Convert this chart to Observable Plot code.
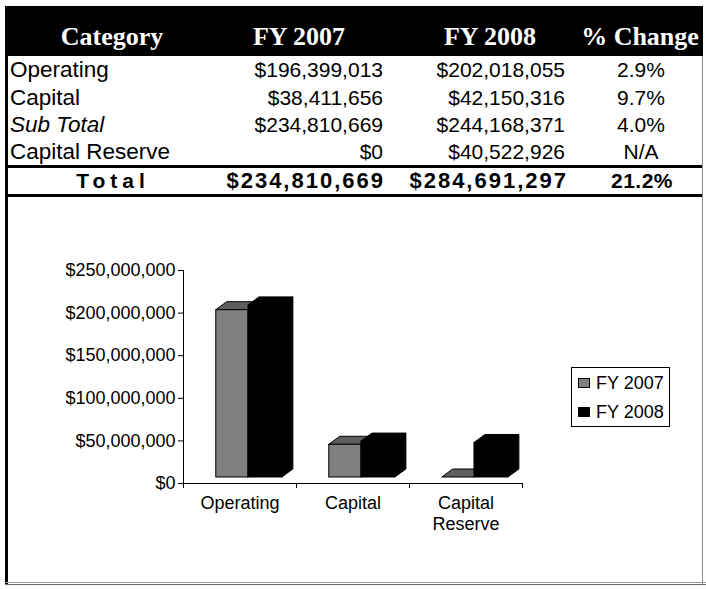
<!DOCTYPE html>
<html><head><meta charset="utf-8">
<script src="https://cdn.jsdelivr.net/npm/d3@7"></script>
<script src="https://cdn.jsdelivr.net/npm/@observablehq/plot@0.6"></script>
<style>
html,body{margin:0;padding:0;background:#fff}
body{width:706px;height:589px;position:relative;overflow:hidden;font-family:"Liberation Sans",Arial,sans-serif;color:#000}
.abs{position:absolute}
.cell{position:absolute;white-space:nowrap;line-height:30px;height:30px}
.hdr{font-family:"Liberation Serif","Times New Roman",serif;font-weight:bold;font-size:26px;color:#fff}
.body{font-size:21px}
.lab{font-size:22.5px}
.tot{font-size:22px;font-weight:bold;letter-spacing:2px}
#chart{position:absolute;left:8px;top:198px}
#legend{position:absolute;left:571px;top:367px;width:97px;height:58px;border:1px solid #000;font-size:18px}
.li{position:absolute;left:6px;height:22px;line-height:22px}
.sw{display:inline-block;width:10px;height:8px;border:1px solid #000;margin-right:6px;vertical-align:1px}
</style></head><body>
<div id="root"></div>
<div id="chart"></div>
<div id="legend"></div>
<script>
// ---- table data ----
const headers = ["Category", "FY 2007", "FY 2008", "% Change"];
const rowLabels = ["Operating", "Capital", "Sub Total", "Capital Reserve"];
const fy2007Text = ["$196,399,013", "$38,411,656", "$234,810,669", "$0"];
const fy2008Text = ["$202,018,055", "$42,150,316", "$244,168,371", "$40,522,926"];
const pctText = ["2.9%", "9.7%", "4.0%", "N/A"];
const totalRow = ["Total", "$234,810,669", "$284,691,297", "21.2%"];

// ---- chart data ----
const categories = ["Operating", "Capital", "Capital Reserve"];
const series = ["FY 2007", "FY 2008"];
const fy2007 = [196399013, 38411656, 0];
const fy2008 = [202018055, 42150316, 40522926];
const yTicks = [0, 50000000, 100000000, 150000000, 200000000, 250000000];
const seriesColors = ["#808080", "#000000"];

// ---------------- table ----------------
const root = document.getElementById("root");
function box(l, t, w, h, bg) {
  const d = document.createElement("div");
  d.className = "abs";
  Object.assign(d.style, {left: l + "px", top: t + "px", width: w + "px", height: h + "px", background: bg});
  root.appendChild(d);
}
function cell(text, x, yc, align, cls, extra) {
  const d = document.createElement("div");
  d.className = "cell " + cls;
  d.textContent = text;
  d.style.top = (yc - 15) + "px";
  if (align === "left") d.style.left = x + "px";
  else if (align === "right") d.style.right = (706 - x) + "px";
  else { d.style.left = (x - 150) + "px"; d.style.width = "300px"; d.style.textAlign = "center"; }
  if (extra) Object.assign(d.style, extra);
  root.appendChild(d);
}
box(5, 6, 698, 50, "#000");           // header band
box(5, 165, 698, 3, "#000");          // rule above total
box(5, 194, 698, 3, "#000");          // rule below total
box(5, 6, 3, 579, "#000");            // left border
box(702, 56, 1, 528, "#8c8c8c");      // right border
box(5, 582, 701, 1, "#9a9a9a");       // bottom border
box(5, 584, 701, 1, "#6a6a6a");

const hx = [112, 299, 490, 640];
headers.forEach((h, i) => cell(h, hx[i], 37, "center", "hdr"));
const rowY = [70, 98, 125, 152];
rowLabels.forEach((r, i) => {
  cell(r, 10, rowY[i], "left", "lab", r === "Sub Total" ? {fontStyle: "italic"} : null);
  cell(fy2007Text[i], 383, rowY[i], "right", "body");
  cell(fy2008Text[i], 565, rowY[i], "right", "body");
  cell(pctText[i], 641, rowY[i], "center", "body");
});
cell(totalRow[0], 113, 181, "center", "tot", {letterSpacing: "5px", fontSize: "21px"});
cell(totalRow[1], 385, 181, "right", "tot");
cell(totalRow[2], 568, 181, "right", "tot");
cell(totalRow[3], 642, 181, "center", "tot", {letterSpacing: "0.5px", fontSize: "21px"});

// ---------------- chart ----------------
const valuesBySeries = [fy2007, fy2008];
const bars = [];
series.forEach((s, si) => categories.forEach((c, ci) => bars.push({category: c, series: s, si, value: valuesBySeries[si][ci]})));

function bars3d(index, scales) {
  const x = scales.x, y = scales.y;
  const bw = x.bandwidth();
  const g = d3.create("svg:g");
  const [r0, r1] = x.range();
  const y0 = y(0), yTop = y(yTicks[yTicks.length - 1]);
  // axis lines
  g.append("line").attr("x1", r0 + 0.5).attr("x2", r0 + 0.5).attr("y1", yTop).attr("y2", y0).attr("stroke", "#000");
  g.append("line").attr("x1", r0).attr("x2", r1).attr("y1", y0 + 0.5).attr("y2", y0 + 0.5).attr("stroke", "#000");
  const bounds = categories.map(c => x(c)).concat([x(categories[categories.length - 1]) + bw]);
  bounds.forEach(b => g.append("line").attr("x1", Math.round(b) + 0.5).attr("x2", Math.round(b) + 0.5).attr("y1", y0).attr("y2", y0 + 5).attr("stroke", "#000"));
  // 3-D bars
  const lift = 6, ddx = 11, ddy = -8;
  const start = [0.29, 0.575], wid = [0.285, 0.3];
  for (const d of bars) {
    const xa = x(d.category) + bw * start[d.si];
    const xb = xa + bw * wid[d.si];
    const yb = y0 - lift, yt = y(d.value) - lift;
    const col = seriesColors[d.si];
    const topCol = d.si === 0 ? "#5e5e5e" : "#000";
    const sideCol = d.si === 0 ? "#4a4a4a" : "#000";
    const pts = a => a.map(p => p.join(",")).join(" ");
    g.append("polygon").attr("points", pts([[xb, yt], [xb + ddx, yt + ddy], [xb + ddx, yb + ddy], [xb, yb]]))
      .attr("fill", sideCol).attr("stroke", "#000").attr("stroke-linejoin", "round");
    g.append("polygon").attr("points", pts([[xa, yt], [xb, yt], [xb + ddx, yt + ddy], [xa + ddx, yt + ddy]]))
      .attr("fill", topCol).attr("stroke", "#000").attr("stroke-linejoin", "round");
    if (yb - yt > 0.5)
      g.append("rect").attr("x", xa).attr("y", yt).attr("width", xb - xa).attr("height", yb - yt)
        .attr("fill", col).attr("stroke", "#000");
  }
  return g.node();
}

const plot = Plot.plot({
  width: 694,
  height: 384,
  marginTop: 72,
  marginBottom: 99,
  marginLeft: 175,
  marginRight: 180,
  style: {fontFamily: "'Liberation Sans', Arial, sans-serif", fontSize: "18px", color: "#000", background: "transparent"},
  x: {type: "band", domain: categories, paddingInner: 0, paddingOuter: 0, label: null},
  y: {type: "linear", domain: [0, 250000000], label: null},
  marks: [
    Plot.axisY({ticks: yTicks, tickFormat: d => "$" + d3.format(",")(d), tickSize: 5, tickPadding: 3, fontSize: 18, label: null}),
    Plot.axisX({tickSize: 0, tickPadding: 10, fontSize: 18, lineHeight: 1.2, label: null,
      tickFormat: d => d === "Capital Reserve" ? "Capital\nReserve" : d}),
    bars3d
  ]
});
document.getElementById("chart").appendChild(plot);

// legend
const legend = document.getElementById("legend");
series.forEach((s, i) => {
  const d = document.createElement("div");
  d.className = "li";
  d.style.top = (4 + i * 29) + "px";
  d.innerHTML = `<span class="sw" style="background:${seriesColors[i]}"></span>${s}`;
  legend.appendChild(d);
});
</script>
</body></html>
